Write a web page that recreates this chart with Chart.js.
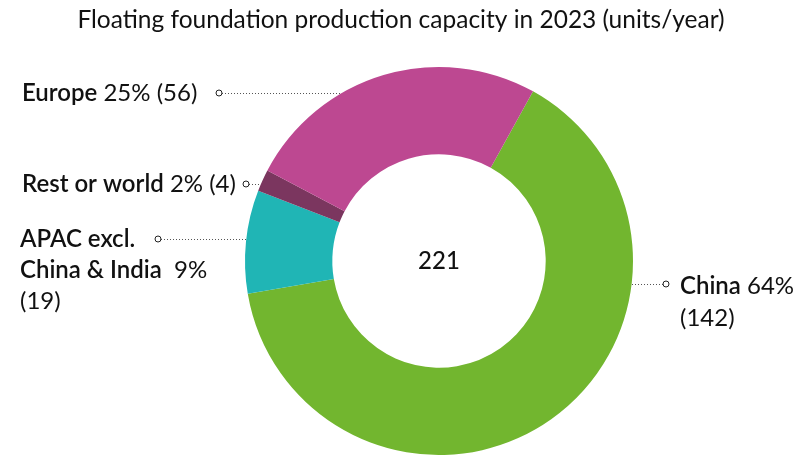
<!DOCTYPE html>
<html>
<head>
<meta charset="utf-8">
<script src="https://cdn.jsdelivr.net/npm/chart.js@4.4.0/dist/chart.umd.min.js"></script>
<style>
  html, body { margin: 0; padding: 0; background: #fff; }
  #wrap { width: 801px; height: 455px; position: relative; }
</style>
</head>
<body>
<div id="wrap"><canvas id="capacityChart"></canvas></div>
<script>
var regions = ['China', 'APAC excl. China & India', 'Rest or world', 'Europe'];
var units = [142, 19, 4, 56];
var percents = ['64%', '9%', '2%', '25%'];
var colors = ['#72b62f', '#20b5b5', '#7b365f', '#bd4891'];
var titleText = 'Floating foundation production capacity in 2023 (units/year)';

var FONT = 'Lato, "Open Sans", sans-serif';

// label layout: name/number pieces per line, anchor y, side
var labelLayout = [
  { lines: [['China', ' 64%'], ['', '(142)']], x: 680, y: 286, gap: 32, dotX: 666, side: 'right' },
  { lines: [['APAC excl.', ''], ['China & India', '  9%'], ['', '(19)']], x: 20, y: 239, gap: 31, dotX: 158, side: 'left' },
  { lines: [['Rest or world', ' 2% (4)']], x: 22, y: 184, gap: 31, dotX: 246, side: 'left' },
  { lines: [['Europe', ' 25% (56)']], x: 22, y: 93, gap: 31, dotX: 219, side: 'left' }
];

var labelPlugin = {
  id: 'labelPlugin',
  afterDraw: function (chart) {
    var ctx = chart.ctx;
    var arc = chart.getDatasetMeta(0).data[0];
    var cx = arc.x, cy = arc.y, r = arc.outerRadius;

    ctx.save();
    // title
    ctx.fillStyle = '#111';
    ctx.font = '24.5px ' + FONT;
    ctx.textAlign = 'center';
    ctx.textBaseline = 'middle';
    ctx.fillText(titleText, 401, 20);

    // total in centre
    var total = units.reduce(function (a, b) { return a + b; }, 0);
    ctx.font = '500 24px ' + FONT;
    ctx.fillText(String(total), cx, cy);

    labelLayout.forEach(function (lab) {
      var lineY = lab.side === 'right' ? lab.y - 2 : lab.y;
      // leader line from dot to outer edge of ring
      var dy = lineY - cy;
      var dx = Math.sqrt(Math.max(r * r - dy * dy, 0));
      var edgeX = lab.side === 'left' ? cx - dx : cx + dx;
      ctx.strokeStyle = '#555';
      ctx.lineWidth = 1;
      ctx.setLineDash([1, 2]);
      ctx.beginPath();
      ctx.moveTo(lab.side === 'left' ? lab.dotX + 3 : lab.dotX - 3, lineY + 0.5);
      ctx.lineTo(edgeX, lineY + 0.5);
      ctx.stroke();
      ctx.setLineDash([]);
      ctx.beginPath();
      ctx.arc(lab.dotX, lineY, 3, 0, Math.PI * 2);
      ctx.fillStyle = '#fff';
      ctx.fill();
      ctx.strokeStyle = '#222';
      ctx.stroke();

      ctx.textAlign = 'left';
      ctx.textBaseline = 'middle';
      ctx.fillStyle = '#111';
      lab.lines.forEach(function (ln, i) {
        var y = lab.y + i * lab.gap;
        var x = lab.x;
        ctx.font = '600 24px ' + FONT;
        ctx.fillText(ln[0], x, y);
        x += ctx.measureText(ln[0]).width;
        ctx.font = '24px ' + FONT;
        ctx.fillText(ln[1], x, y);
      });
    });
    ctx.restore();
  }
};

new Chart(document.getElementById('capacityChart'), {
  type: 'doughnut',
  data: {
    labels: regions,
    datasets: [{
      data: units,
      backgroundColor: colors,
      borderWidth: 0
    }]
  },
  options: {
    responsive: true,
    maintainAspectRatio: false,
    animation: false,
    devicePixelRatio: 1,
    rotation: 29,
    cutout: '55%',
    layout: { padding: { top: 67, bottom: 0, left: 245, right: 168 } },
    plugins: {
      legend: { display: false },
      tooltip: { enabled: false },
      title: { display: false }
    }
  },
  plugins: [labelPlugin]
});
</script>
</body>
</html>
